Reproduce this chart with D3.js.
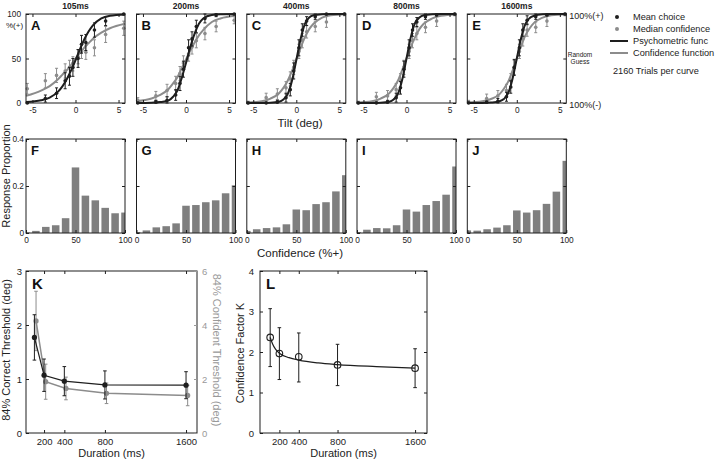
<!DOCTYPE html>
<html>
<head>
<meta charset="utf-8">
<script src="https://cdn.jsdelivr.net/npm/d3@7"></script>
<style>
body { margin: 0; background: #fff; }
svg { font-family: "Liberation Sans", Arial, Helvetica, sans-serif; }
</style>
</head>
<body>
<svg id="fig" width="718" height="459"></svg>
<script>
var durations = ["105ms", "200ms", "400ms", "800ms", "1600ms"];
var topLetters = ["A", "B", "C", "D", "E"];
var histLetters = ["F", "G", "H", "I", "J"];

// tilt levels (deg) used in panels A-E
var tilts = [-5.6, -3.5, -2.2, -1.2, -0.7, -0.3, 0.3, 0.7, 1.2, 2.2, 3.5, 5.6];

// mean choice (% +) per duration
var meanChoice = [
    [0, 5, 11, 25, 30, 40, 50, 66, 68, 82, 92, 100],
    [0, 1, 3, 9, 22, 38, 62, 72, 86, 95, 99, 100],
    [0, 0, 1, 6, 15, 36, 62, 82, 92, 97, 100, 100],
    [0, 0, 1, 6, 17, 38, 62, 82, 91, 97, 99, 100],
    [0, 1, 2, 7, 18, 40, 62, 82, 93, 97, 99, 100]
];
var meanChoiceErr = [
    [1, 4, 6, 9, 10, 10, 10, 10, 9, 8, 5, 1],
    [1, 2, 4, 6, 8, 9, 9, 8, 7, 5, 2, 1],
    [1, 1, 2, 5, 7, 9, 9, 7, 5, 3, 1, 1],
    [1, 1, 2, 5, 7, 9, 9, 7, 5, 3, 1, 1],
    [1, 1, 3, 5, 7, 9, 9, 7, 5, 3, 1, 1]
];
// median confidence (% +) per duration
var medianConf = [
    [16, 25, 31, 36, 40, 44, 52, 58, 57, 62, 77, 84],
    [3, 8, 14, 22, 33, 45, 55, 63, 70, 78, 86, 93],
    [0, 6, 10, 17, 27, 40, 58, 70, 80, 86, 91, 100],
    [0, 7, 8, 15, 25, 40, 58, 70, 78, 85, 92, 100],
    [1, 5, 8, 14, 25, 40, 58, 72, 82, 85, 92, 100]
];
var medianConfErr = [
    [6, 8, 8, 8, 8, 8, 8, 8, 8, 9, 9, 8],
    [3, 5, 7, 8, 8, 8, 8, 8, 8, 7, 6, 4],
    [2, 5, 6, 7, 8, 8, 8, 8, 7, 6, 6, 2],
    [2, 5, 6, 7, 8, 8, 8, 8, 7, 6, 6, 2],
    [2, 5, 6, 7, 8, 8, 8, 8, 7, 6, 6, 2]
];

// fitted curves, read at these tilts
var fitTilt = [-5.75, -4, -3, -2, -1.5, -1, -0.5, 0, 0.5, 1, 1.5, 2, 3, 4, 5.75];
var psychFit = [
    [1, 3, 6, 13, 19, 27, 37, 48, 60, 71, 80, 87, 95, 98, 99.5],
    [0, 0.3, 1, 3, 7, 14, 28, 45, 63, 78, 89, 95, 99, 99.7, 100],
    [0, 0, 0.3, 1.5, 4, 10, 25, 48, 72, 89, 96, 98.5, 99.7, 100, 100],
    [0, 0, 0.3, 1.5, 4, 10, 26, 50, 74, 90, 96, 98.5, 99.7, 100, 100],
    [0, 0, 0.5, 2, 4.5, 11, 27, 50, 73, 89, 95.5, 98, 99.7, 100, 100]
];
var confFit = [
    [8, 14, 19, 27, 32, 37, 43, 50, 56, 62, 67, 72, 79, 84, 89],
    [2, 5, 9, 16, 22, 29, 39, 49, 59, 68, 76, 82, 91, 95, 98],
    [0.5, 2, 5, 11, 17, 25, 36, 49, 62, 74, 83, 89, 96, 98.5, 99.7],
    [0.5, 2, 5, 11, 17, 25, 37, 50, 63, 74, 83, 89, 95, 98, 99.5],
    [0.5, 2, 4.5, 10, 16, 24, 36, 50, 64, 76, 84, 90, 96, 98.5, 99.7]
];

// confidence histograms (F-J)
var confBins = [0, 10, 20, 30, 40, 50, 60, 70, 80, 90, 100];
var respProp = [
    [0.002, 0.009, 0.026, 0.033, 0.063, 0.279, 0.159, 0.139, 0.107, 0.084, 0.087],
    [0.004, 0.011, 0.024, 0.029, 0.041, 0.116, 0.119, 0.131, 0.139, 0.169, 0.203],
    [0.009, 0.016, 0.021, 0.024, 0.037, 0.100, 0.097, 0.123, 0.131, 0.177, 0.246],
    [0.004, 0.014, 0.021, 0.020, 0.033, 0.100, 0.091, 0.119, 0.136, 0.163, 0.283],
    [0.011, 0.010, 0.016, 0.023, 0.033, 0.096, 0.087, 0.097, 0.124, 0.176, 0.307]
];

// thresholds (K) and confidence factor (L)
var durMs = [105, 200, 400, 800, 1600];
var correctThresh = [1.77, 1.07, 0.96, 0.89, 0.885];
var correctThreshErr = [0.42, 0.3, 0.27, 0.26, 0.25];
var confidentThresh = [4.15, 1.9, 1.65, 1.47, 1.39];
var confidentThreshErr = [1.1, 0.65, 0.42, 0.38, 0.38];
var factorK = [2.36, 1.96, 1.88, 1.68, 1.6];
var factorKHi = [3.07, 2.6, 2.47, 2.19, 2.08];
var factorKLo = [1.64, 1.32, 1.26, 1.17, 1.12];
var factorFitMs = [105, 130, 160, 200, 300, 400, 600, 800, 1200, 1600];
var factorFitK = [2.36, 2.2, 2.07, 1.97, 1.86, 1.8, 1.73, 1.69, 1.64, 1.6];

var black = "#1e1e1e";
var grey = "#8c8c8c";
var svg = d3.select("#fig");

var colLeft = [26, 136.5, 246.8, 357, 467.3];
var pw = 99;
var plain = function (d) { return d; };
var blank = function () { return ""; };

// MATLAB style box with inward ticks
function boxAxes(g, xs, ys, o) {
    var w = xs.range()[1] - xs.range()[0];
    var h = ys.range()[0] - ys.range()[1];
    var fs = o.fs || 8.3;
    g.append("g").attr("transform", "translate(0," + h + ")")
        .call(d3.axisBottom(xs).tickValues(o.xt).tickSizeInner(-3).tickSizeOuter(0).tickPadding(o.xpad || 4)
            .tickFormat(o.xlab ? plain : blank));
    g.append("g")
        .call(d3.axisTop(xs).tickValues(o.xt).tickSizeInner(-3).tickSizeOuter(0).tickFormat(blank));
    g.append("g")
        .call(d3.axisLeft(ys).tickValues(o.yt).tickSizeInner(-3).tickSizeOuter(0).tickPadding(o.ypad || 5)
            .tickFormat(o.ylab ? plain : blank));
    if (!o.noRight) {
        g.append("g").attr("transform", "translate(" + w + ",0)")
            .call(d3.axisRight(ys).tickValues(o.yt).tickSizeInner(-3).tickSizeOuter(0).tickFormat(blank));
    }
    g.selectAll(".domain").remove();
    g.selectAll(".tick line").attr("stroke", black);
    g.selectAll(".tick text").attr("font-size", fs).attr("fill", "#222");
    g.append("rect").attr("width", w).attr("height", h)
        .attr("fill", "none").attr("stroke", black).attr("stroke-width", 1);
}

function errBars(g, xs, ys, xv, yv, lo, hi, color, cap) {
    var eb = g.append("g").attr("stroke", color).attr("stroke-width", 1);
    xv.forEach(function (x, i) {
        var px = xs(x);
        eb.append("line").attr("x1", px).attr("x2", px).attr("y1", ys(lo[i])).attr("y2", ys(hi[i]));
        eb.append("line").attr("x1", px - cap).attr("x2", px + cap).attr("y1", ys(lo[i])).attr("y2", ys(lo[i]));
        eb.append("line").attr("x1", px - cap).attr("x2", px + cap).attr("y1", ys(hi[i])).attr("y2", ys(hi[i]));
    });
}

// ---------- top row: psychometric / confidence functions ----------
var topY = 14, topH = 89;
durations.forEach(function (dur, p) {
    var g = svg.append("g").attr("transform", "translate(" + colLeft[p] + "," + topY + ")");
    var x = d3.scaleLinear().domain([-5.75, 5.75]).range([0, pw]);
    var y = d3.scaleLinear().domain([0, 100]).range([topH, 0]);

    var clip = g.append("clipPath").attr("id", "clipTop" + p);
    clip.append("rect").attr("x", -3).attr("y", -3).attr("width", pw + 6).attr("height", topH + 6);
    var plot = g.append("g").attr("clip-path", "url(#clipTop" + p + ")");

    var line = d3.line().curve(d3.curveMonotoneX)
        .x(function (d) { return x(d[0]); }).y(function (d) { return y(d[1]); });

    errBars(plot, x, y, tilts, medianConf[p],
        medianConf[p].map(function (v, i) { return Math.max(0, v - medianConfErr[p][i]); }),
        medianConf[p].map(function (v, i) { return Math.min(100, v + medianConfErr[p][i]); }), grey, 1.5);
    plot.append("path").datum(d3.zip(fitTilt, confFit[p]))
        .attr("d", line).attr("fill", "none").attr("stroke", grey).attr("stroke-width", 2);
    plot.selectAll(".cdot").data(tilts).enter().append("circle")
        .attr("cx", function (d) { return x(d); })
        .attr("cy", function (d, i) { return y(medianConf[p][i]); })
        .attr("r", 1.8).attr("fill", grey);

    errBars(plot, x, y, tilts, meanChoice[p],
        meanChoice[p].map(function (v, i) { return Math.max(0, v - meanChoiceErr[p][i]); }),
        meanChoice[p].map(function (v, i) { return Math.min(100, v + meanChoiceErr[p][i]); }), black, 1.5);
    plot.append("path").datum(d3.zip(fitTilt, psychFit[p]))
        .attr("d", line).attr("fill", "none").attr("stroke", black).attr("stroke-width", 2);
    plot.selectAll(".mdot").data(tilts).enter().append("circle")
        .attr("cx", function (d) { return x(d); })
        .attr("cy", function (d, i) { return y(meanChoice[p][i]); })
        .attr("r", 1.8).attr("fill", black);

    boxAxes(g, x, y, { xt: [-5, 0, 5], yt: [0, 50, 100], xlab: true, ylab: p === 0 });

    g.append("text").attr("x", pw / 2).attr("y", -5).attr("text-anchor", "middle")
        .attr("font-size", 8.5).attr("font-weight", "bold").attr("fill", "#222").text(dur);
    g.append("text").attr("x", 5).attr("y", 15.5)
        .attr("font-size", 13).attr("font-weight", "bold").attr("fill", "#111").text(topLetters[p]);
});

svg.append("text").attr("x", 6).attr("y", 28).attr("font-size", 8).attr("fill", "#222").text("%(+)");
svg.append("text").attr("x", 300).attr("y", 127).attr("text-anchor", "middle")
    .attr("font-size", 11.5).attr("fill", "#222").text("Tilt (deg)");

// right-hand annotations of E
var rx = colLeft[4] + pw + 3;
svg.append("text").attr("x", rx).attr("y", 18.5).attr("font-size", 9).attr("fill", "#222").text("100%(+)");
svg.append("text").attr("x", 580).attr("y", 57).attr("text-anchor", "middle").attr("font-size", 6.5).attr("fill", "#222").text("Random");
svg.append("text").attr("x", 580).attr("y", 64).attr("text-anchor", "middle").attr("font-size", 6.5).attr("fill", "#222").text("Guess");
svg.append("text").attr("x", rx).attr("y", 107.5).attr("font-size", 9).attr("fill", "#222").text("100%(-)");

// legend
var legend = svg.append("g").attr("font-size", 9.2).attr("fill", "#222");
var legItems = [
    { label: "Mean choice", kind: "dot", color: black },
    { label: "Median confidence", kind: "dot", color: grey },
    { label: "Psychometric func", kind: "line", color: black },
    { label: "Confidence function", kind: "line", color: grey }
];
legItems.forEach(function (d, i) {
    var ly = 17 + i * 12;
    if (d.kind === "dot") {
        legend.append("circle").attr("cx", 617).attr("cy", ly).attr("r", 2).attr("fill", d.color);
    } else {
        legend.append("line").attr("x1", 610).attr("x2", 628).attr("y1", ly).attr("y2", ly)
            .attr("stroke", d.color).attr("stroke-width", 2);
    }
    legend.append("text").attr("x", 633).attr("y", ly + 3.3).text(d.label);
});
legend.append("text").attr("x", 613).attr("y", 74).text("2160 Trials per curve");

// ---------- middle row: confidence histograms ----------
var midY = 139, midH = 94;
respProp.forEach(function (vals, p) {
    var g = svg.append("g").attr("transform", "translate(" + colLeft[p] + "," + midY + ")");
    var x = d3.scaleLinear().domain([0, 100]).range([0, pw]);
    var y = d3.scaleLinear().domain([0, 0.4]).range([midH, 0]);
    g.append("clipPath").attr("id", "clipH" + p)
        .append("rect").attr("width", pw).attr("height", midH);
    var bw = x(7.6) - x(0);
    g.append("g").attr("clip-path", "url(#clipH" + p + ")")
        .selectAll("rect").data(confBins).enter().append("rect")
        .attr("x", function (d) { return x(d) - bw / 2; })
        .attr("y", function (d, i) { return y(vals[i]); })
        .attr("width", bw)
        .attr("height", function (d, i) { return midH - y(vals[i]); })
        .attr("fill", "#7f7f7f");
    boxAxes(g, x, y, { xt: [0, 50, 100], yt: [0, 0.2, 0.4], xlab: true, ylab: p === 0, ypad: 2 });
    g.append("text").attr("x", 5).attr("y", 15.5)
        .attr("font-size", 13).attr("font-weight", "bold").attr("fill", "#111").text(histLetters[p]);
});
svg.append("text").attr("transform", "translate(10,176) rotate(-90)").attr("text-anchor", "middle")
    .attr("font-size", 11).attr("fill", "#222").text("Response Proportion");
svg.append("text").attr("x", 300).attr("y", 257).attr("text-anchor", "middle")
    .attr("font-size", 11.5).attr("fill", "#222").text("Confidence (%+)");

// ---------- K: thresholds ----------
var botY = 271, botH = 162;
(function () {
    var w = 171;
    var g = svg.append("g").attr("transform", "translate(26," + botY + ")");
    var x = d3.scaleLinear().domain([22, 1708]).range([0, w]);
    var y = d3.scaleLinear().domain([0, 3]).range([botH, 0]);
    var y2 = d3.scaleLinear().domain([0, 6]).range([botH, 0]);
    var greyMs = durMs.map(function (d) { return d + 16; });

    // grey: confident threshold (right axis)
    errBars(g, x, y2, greyMs, confidentThresh,
        confidentThresh.map(function (v, i) { return v - confidentThreshErr[i]; }),
        confidentThresh.map(function (v, i) { return v + confidentThreshErr[i]; }), grey, 1.8);
    g.append("path").datum(d3.zip(greyMs, confidentThresh))
        .attr("d", d3.line().x(function (d) { return x(d[0]); }).y(function (d) { return y2(d[1]); }))
        .attr("fill", "none").attr("stroke", grey).attr("stroke-width", 1.5);
    g.selectAll(".gk").data(greyMs).enter().append("circle")
        .attr("cx", function (d) { return x(d); })
        .attr("cy", function (d, i) { return y2(confidentThresh[i]); })
        .attr("r", 2.6).attr("fill", grey);

    // black: correct threshold (left axis)
    errBars(g, x, y, durMs, correctThresh,
        correctThresh.map(function (v, i) { return v - correctThreshErr[i]; }),
        correctThresh.map(function (v, i) { return v + correctThreshErr[i]; }), black, 1.8);
    g.append("path").datum(d3.zip(durMs, correctThresh))
        .attr("d", d3.line().x(function (d) { return x(d[0]); }).y(function (d) { return y(d[1]); }))
        .attr("fill", "none").attr("stroke", black).attr("stroke-width", 1.2);
    g.selectAll(".bk").data(durMs).enter().append("circle")
        .attr("cx", function (d) { return x(d); })
        .attr("cy", function (d, i) { return y(correctThresh[i]); })
        .attr("r", 2.6).attr("fill", black);

    boxAxes(g, x, y, { xt: [200, 400, 800, 1600], yt: [0, 1, 2, 3], xlab: true, ylab: true,
        fs: 9.5, xpad: 5, ypad: 4, noRight: true });
    var ra = g.append("g").attr("transform", "translate(" + w + ",0)")
        .call(d3.axisRight(y2).tickValues([0, 2, 4, 6]).tickSizeInner(-3).tickSizeOuter(0).tickPadding(5)
            .tickFormat(plain));
    ra.select(".domain").remove();
    ra.selectAll(".tick line").attr("stroke", "#999");
    ra.selectAll(".tick text").attr("font-size", 9.5).attr("fill", "#999");

    g.append("text").attr("x", 6).attr("y", 18).attr("font-size", 15).attr("font-weight", "bold")
        .attr("fill", "#111").text("K");
    g.append("text").attr("transform", "translate(-16," + (botH / 2 - 2) + ") rotate(-90)")
        .attr("text-anchor", "middle").attr("font-size", 11).attr("fill", "#222")
        .text("84% Correct Threshold (deg)");
    g.append("text").attr("transform", "translate(" + (w + 16) + "," + (botH / 2 - 2) + ") rotate(90)")
        .attr("text-anchor", "middle").attr("font-size", 11).attr("fill", "#999")
        .text("84% Confident Threshold (deg)");
    g.append("text").attr("x", w / 2).attr("y", botH + 24).attr("text-anchor", "middle")
        .attr("font-size", 11).attr("fill", "#222").text("Duration (ms)");
})();

// ---------- L: confidence factor ----------
(function () {
    var w = 167;
    var g = svg.append("g").attr("transform", "translate(260," + botY + ")");
    var x = d3.scaleLinear().domain([0, 1723]).range([0, w]);
    var y = d3.scaleLinear().domain([0, 4]).range([botH, 0]);

    errBars(g, x, y, durMs, factorK, factorKLo, factorKHi, black, 1.8);
    g.append("path").datum(d3.zip(factorFitMs, factorFitK))
        .attr("d", d3.line().curve(d3.curveMonotoneX).x(function (d) { return x(d[0]); }).y(function (d) { return y(d[1]); }))
        .attr("fill", "none").attr("stroke", black).attr("stroke-width", 1.2);
    g.selectAll(".kc").data(durMs).enter().append("circle")
        .attr("cx", function (d) { return x(d); })
        .attr("cy", function (d, i) { return y(factorK[i]); })
        .attr("r", 3.3).attr("fill", "none").attr("stroke", black).attr("stroke-width", 1.1);

    boxAxes(g, x, y, { xt: [200, 400, 800, 1600], yt: [0, 1, 2, 3, 4], xlab: true, ylab: true,
        fs: 9.5, xpad: 5, ypad: 6 });
    g.append("text").attr("x", 6).attr("y", 18).attr("font-size", 15).attr("font-weight", "bold")
        .attr("fill", "#111").text("L");
    g.append("text").attr("transform", "translate(-16," + (botH / 2 + 1) + ") rotate(-90)")
        .attr("text-anchor", "middle").attr("font-size", 11).attr("fill", "#222")
        .text("Confidence Factor K");
    g.append("text").attr("x", w / 2).attr("y", botH + 24).attr("text-anchor", "middle")
        .attr("font-size", 11).attr("fill", "#222").text("Duration (ms)");
})();
</script>
</body>
</html>
